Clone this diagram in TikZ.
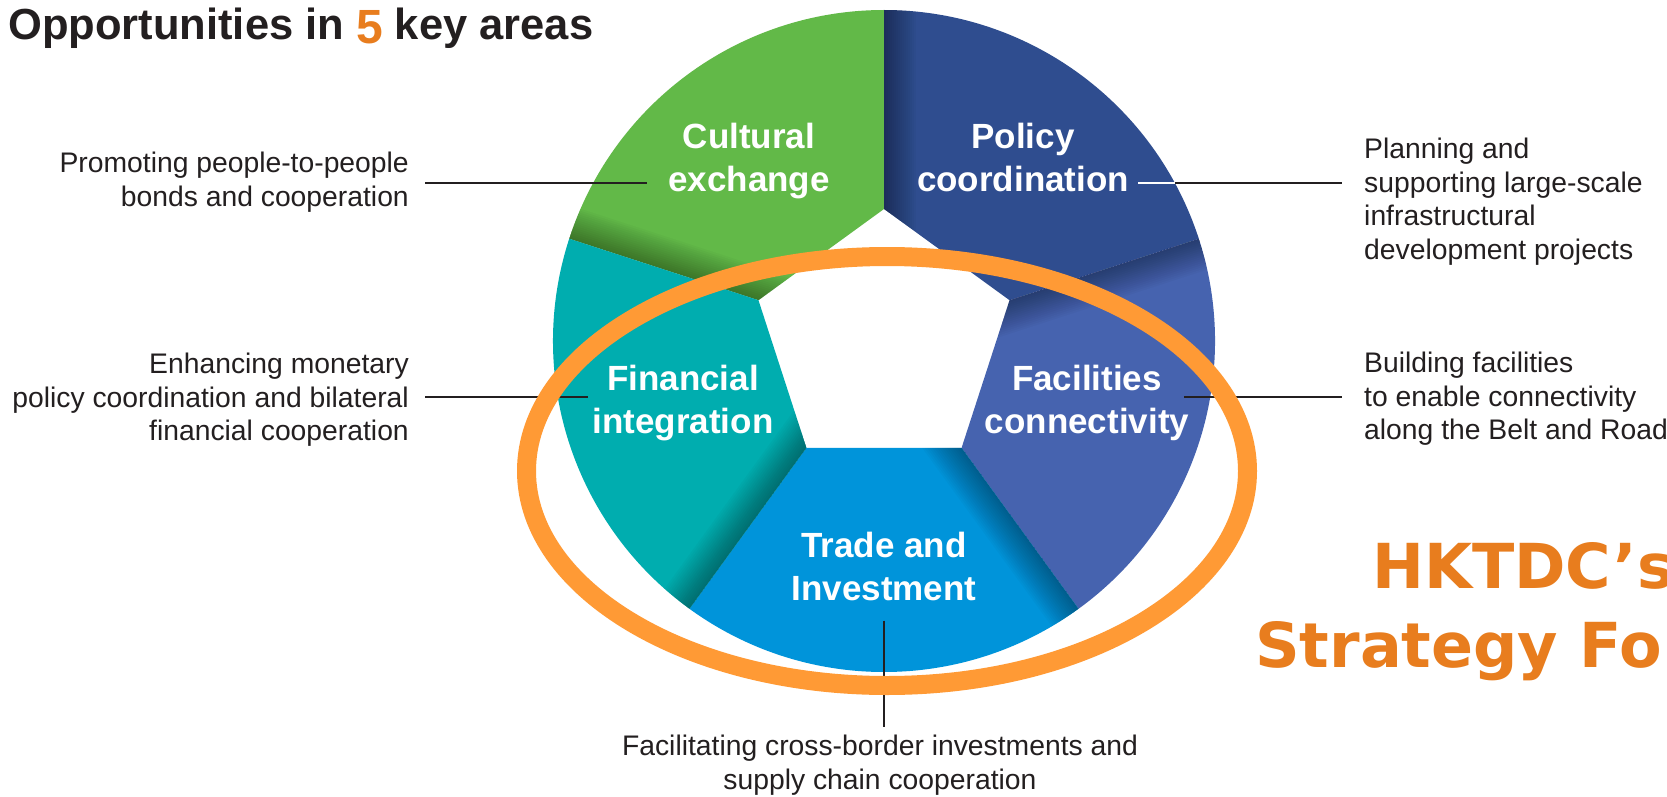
\documentclass[tikz,border=0pt]{standalone}
\usepackage{fontspec}
\setmainfont{Liberation Sans}
\newfontfamily\headfont{DejaVu Sans}
\usepackage{tikz}
\definecolor{culture}{HTML}{62B948}
\definecolor{policy}{HTML}{2F4D8F}
\definecolor{facil}{HTML}{4663AF}
\definecolor{trade}{HTML}{0094DA}
\definecolor{finance}{HTML}{00ADAF}
\definecolor{ringc}{HTML}{FF9A35}
\definecolor{hkorange}{HTML}{E87D1E}
\definecolor{inkgray}{HTML}{231F20}

\begin{document}
\begin{tikzpicture}[x=1pt,y=-1pt,
  seglabel/.style={text=white,font=\fontsize{35}{42.5}\selectfont\bfseries,align=center,inner sep=0pt,anchor=north},
  note/.style={text=inkgray,font=\fontsize{28.3}{33.5}\selectfont,inner sep=0pt},
  leader/.style={line width=1.4pt,inkgray},
  ringline/.style={line width=19pt,ringc}]
%\draw[help lines](0,0)grid[step=100](1667,797);
\fill[white] (0,0) rectangle (1667,797);
\useasboundingbox (0,0) rectangle (1667,797);

% wheel of five pieces, each with a soft shadow on its leading edge
\begin{scope}[shift={(884,341)}]
\foreach \s/\col in {-162/culture,-90/policy,-18/facil,54/trade,126/finance}{
  \fill[\col] (\s:132) -- (\s:331) arc[start angle=\s,end angle=\s+72,radius=331] -- (\s+72:132) -- cycle;
  \begin{scope}
    \clip (\s:132) -- (\s:331) arc[start angle=\s,end angle=\s+72,radius=331] -- (\s+72:132) -- cycle;
    \foreach \w in {4,8,...,64}
      \draw[line width=\w pt,black,opacity=.024] (\s:100) -- (\s:331);
  \end{scope}
}
\end{scope}

% labels on the wheel
\node[seglabel] (cult) at (749,123) {Cultural\\exchange};
\node[seglabel] (pol) at (1023,123) {Policy\\coordination};
\node[seglabel] (fin) at (683,365) {Financial\\integration};
\node[seglabel] (fac) at (1087,365) {Facilities\\connectivity};
\node[seglabel] (tra) at (884,532) {Trade and\\Investment};

% notes
\node[note,align=right,anchor=north east] (promo) at (409,152) {Promoting people-to-people\\bonds and cooperation};
\node[note,align=right,anchor=north east] (money) at (409,353) {Enhancing monetary\\policy coordination and bilateral\\financial cooperation};
\node[note,align=left,anchor=north west] (plan) at (1364,138) {Planning and\\supporting large-scale\\infrastructural\\development projects};
\node[note,align=left,anchor=north west] (build) at (1364,352) {Building facilities\\to enable connectivity\\along the Belt and Road};
\node[note,align=center,anchor=north] (invest) at (880,735) {Facilitating cross-border investments and\\supply chain cooperation};

% leaders
\coordinate (ltop) at (0,183);
\coordinate (lmid) at (0,397);
\coordinate (rimP) at (1175,183);
\draw[leader,shorten <=16pt,shorten >=21pt] (promo.east |- ltop) -- (cult.west |- ltop);
\draw[leader,white,shorten <=9pt] (pol.east |- ltop) -- (rimP);
\draw[leader,shorten >=22pt] (rimP) -- (plan.west |- ltop);
\draw[leader,shorten <=16pt,shorten >=4pt] (money.east |- lmid) -- (fin.west |- lmid);
\draw[leader,shorten <=-5pt,shorten >=22pt] (fac.east |- lmid) -- (build.west |- lmid);
\draw[leader,shorten <=20pt,shorten >=8pt] (tra.south) -- (tra.south |- invest.north);

% orange ring
\draw[ringline] (887,471) ellipse[x radius=360.5,y radius=214.5];

% headings
\node[anchor=base west,inner sep=0pt,text=inkgray,font=\fontsize{43.5}{50}\selectfont\bfseries] (title) at (8,40)
  {Opportunities in \raisebox{-4pt}{\fontsize{48}{50}\selectfont\textcolor{hkorange}{5}} key areas};
\node[anchor=base west,inner sep=0pt,text=hkorange,font=\headfont\bfseries\fontsize{62}{70}\selectfont] (hk) at (1372,588) {HKTDC’s};
\node[anchor=base west,inner sep=0pt,text=hkorange,font=\headfont\bfseries\fontsize{62}{70}\selectfont] (strat) at (1255,667) {Strategy Fo};
\end{tikzpicture}
\end{document}
